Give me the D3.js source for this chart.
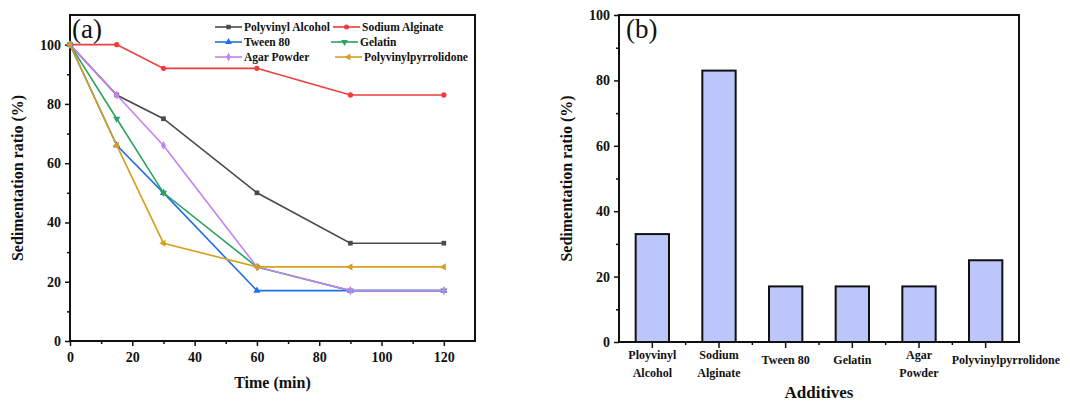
<!DOCTYPE html>
<html>
<head>
<meta charset="utf-8">
<script src="https://cdn.jsdelivr.net/npm/d3@7"></script>
<style>
  body { margin: 0; background: #fff; }
  svg { display: block; font-family: "Liberation Serif", "Times New Roman", serif; }
  .tick text { font-family: "Liberation Serif", "Times New Roman", serif; font-weight: bold; font-size: 14px; fill: #111; }
</style>
</head>
<body>
<svg id="chart" width="1070" height="401"></svg>
<script>
// panel (a) data
const times = [0, 15, 30, 60, 90, 120];
const seriesNames = ["Polyvinyl Alcohol", "Sodium Alginate", "Tween 80", "Gelatin", "Agar Powder", "Polyvinylpyrrolidone"];
const pvaValues = [100, 83, 75, 50, 33, 33];
const alginateValues = [100, 100, 92, 92, 83, 83];
const tweenValues = [100, 66, 50, 17, 17, 17];
const gelatinValues = [100, 75, 50, 25, 17, 17];
const agarValues = [100, 83, 66, 25, 17, 17];
const pvpValues = [100, 66, 33, 25, 25, 25];

// panel (b) data
const additives = ["Ployvinyl|Alcohol", "Sodium|Alginate", "Tween 80", "Gelatin", "Agar|Powder", "Polyvinylpyrrolidone"];
const finalRatio = [33, 83, 17, 17, 17, 25];

const xTicksA = [0, 20, 40, 60, 80, 100, 120];
const yTicks = [0, 20, 40, 60, 80, 100];

const colors = ["#4a4a4a", "#f03c3c", "#1f6fe6", "#2aa35e", "#c282f0", "#d4a020"];
const symbols = [
  { type: d3.symbolSquare, rot: 0 },
  { type: d3.symbolCircle, rot: 0 },
  { type: d3.symbolTriangle, rot: 0 },
  { type: d3.symbolTriangle, rot: 180 },
  { type: d3.symbolDiamond, rot: 0 },
  { type: d3.symbolTriangle, rot: -90 }
];
const allValues = [pvaValues, alginateValues, tweenValues, gelatinValues, agarValues, pvpValues];

const svg = d3.select("#chart");

// ---------- panel (a) ----------
const xA = d3.scaleLinear().domain([0, 130]).range([70, 475]);
const yA = d3.scaleLinear().domain([0, 110]).range([341, 15]);

const gA = svg.append("g");

gA.append("g")
  .attr("transform", `translate(0,${yA(0)})`)
  .call(d3.axisBottom(xA).tickValues(d3.range(10, 130, 20)).tickSize(3).tickFormat(""))
  .call(g => g.select(".domain").remove());
gA.append("g")
  .attr("transform", `translate(0,${yA(0)})`)
  .call(d3.axisBottom(xA).tickValues(xTicksA).tickSize(5).tickPadding(6))
  .call(g => g.select(".domain").remove());

gA.append("g")
  .attr("transform", `translate(${xA(0)},0)`)
  .call(d3.axisLeft(yA).tickValues(d3.range(10, 110, 20)).tickSize(3).tickFormat(""))
  .call(g => g.select(".domain").remove());
gA.append("g")
  .attr("transform", `translate(${xA(0)},0)`)
  .call(d3.axisLeft(yA).tickValues(yTicks).tickSize(5).tickPadding(4))
  .call(g => g.select(".domain").remove());

gA.selectAll(".tick line").attr("stroke", "#111").attr("stroke-width", 1.5);

gA.append("rect")
  .attr("x", xA(0)).attr("y", yA(110))
  .attr("width", xA(130) - xA(0)).attr("height", yA(0) - yA(110))
  .attr("fill", "none").attr("stroke", "#111").attr("stroke-width", 2);

const line = d3.line().x((d, i) => xA(times[i])).y(d => yA(d));

allValues.forEach((vals, s) => {
  gA.append("path")
    .datum(vals)
    .attr("d", line)
    .attr("fill", "none")
    .attr("stroke", colors[s])
    .attr("stroke-width", 1.6);
  gA.selectAll(null)
    .data(vals)
    .enter()
    .append("path")
    .attr("d", d3.symbol().type(symbols[s].type).size(22))
    .attr("transform", (d, i) => `translate(${xA(times[i])},${yA(d)}) rotate(${symbols[s].rot})`)
    .attr("fill", colors[s]);
});

// legend
const legendPos = [[215, 27], [333, 27], [215, 42], [331, 42], [215, 57], [335, 57]];
seriesNames.forEach((name, s) => {
  const [lx, ly] = legendPos[s];
  const lg = gA.append("g").attr("transform", `translate(${lx},${ly})`);
  lg.append("line").attr("x1", 0).attr("x2", 27).attr("stroke", colors[s]).attr("stroke-width", 1.6);
  lg.append("path")
    .attr("d", d3.symbol().type(symbols[s].type).size(20))
    .attr("transform", `translate(13.5,0) rotate(${symbols[s].rot})`)
    .attr("fill", colors[s]);
  lg.append("text")
    .attr("x", 29).attr("y", 4)
    .attr("font-size", 11.5).attr("font-weight", "bold").attr("fill", "#111")
    .text(name);
});

gA.append("text").attr("x", 72).attr("y", 38)
  .attr("font-size", 27).attr("fill", "#111").text("(a)");

gA.append("text")
  .attr("transform", `translate(23,${(yA(0) + yA(110)) / 2}) rotate(-90)`)
  .attr("text-anchor", "middle")
  .attr("font-size", 16).attr("font-weight", "bold").attr("fill", "#111")
  .text("Sedimentation ratio (%)");

gA.append("text")
  .attr("x", (xA(0) + xA(130)) / 2).attr("y", 388)
  .attr("text-anchor", "middle")
  .attr("font-size", 16).attr("font-weight", "bold").attr("fill", "#111")
  .text("Time (min)");

// ---------- panel (b) ----------
const xB = d3.scaleBand().domain(additives).range([619, 1019]).paddingInner(0.5).paddingOuter(0.25);
const yB = d3.scaleLinear().domain([0, 100]).range([342, 15]);

const gB = svg.append("g");

gB.append("g")
  .attr("transform", `translate(${xB.range()[0]},0)`)
  .call(d3.axisLeft(yB).tickValues(d3.range(10, 100, 20)).tickSize(3).tickFormat(""))
  .call(g => g.select(".domain").remove());
gB.append("g")
  .attr("transform", `translate(${xB.range()[0]},0)`)
  .call(d3.axisLeft(yB).tickValues(yTicks).tickSize(5).tickPadding(4))
  .call(g => g.select(".domain").remove());

gB.append("g")
  .attr("transform", `translate(0,${yB(0)})`)
  .call(d3.axisBottom(xB).tickSize(6).tickFormat(""))
  .call(g => g.select(".domain").remove());

// minor ticks at category boundaries
const step = xB.step();
gB.selectAll(null)
  .data(additives.slice(1))
  .enter()
  .append("line")
  .attr("x1", d => xB(d) + xB.bandwidth() / 2 - step / 2)
  .attr("x2", d => xB(d) + xB.bandwidth() / 2 - step / 2)
  .attr("y1", yB(0)).attr("y2", yB(0) + 3)
  .attr("stroke", "#111").attr("stroke-width", 1.5);

gB.selectAll(".tick line").attr("stroke", "#111").attr("stroke-width", 1.5);

gB.selectAll("rect.bar")
  .data(finalRatio)
  .enter()
  .append("rect")
  .attr("class", "bar")
  .attr("x", (d, i) => xB(additives[i]))
  .attr("y", d => yB(d))
  .attr("width", xB.bandwidth())
  .attr("height", d => yB(0) - yB(d))
  .attr("fill", "#bcc6fa")
  .attr("stroke", "#111")
  .attr("stroke-width", 2);

gB.append("rect")
  .attr("x", 619).attr("y", yB(100))
  .attr("width", 400).attr("height", yB(0) - yB(100))
  .attr("fill", "none").attr("stroke", "#111").attr("stroke-width", 2);

// category labels (the long last one starts near its tick and runs past the frame)
additives.forEach((name, i) => {
  const parts = name.split("|");
  const cx = xB(name) + xB.bandwidth() / 2;
  const last = i === additives.length - 1;
  const t = gB.append("text")
    .attr("text-anchor", last ? "start" : "middle")
    .attr("font-size", 12).attr("font-weight", "bold").attr("fill", "#111");
  if (parts.length === 2) {
    t.append("tspan").attr("x", cx).attr("y", 359).text(parts[0]);
    t.append("tspan").attr("x", cx).attr("y", 377).text(parts[1]);
  } else {
    t.append("tspan").attr("x", last ? cx - 34 : cx).attr("y", 364).text(parts[0]);
  }
});

gB.append("text").attr("x", 626).attr("y", 38)
  .attr("font-size", 27).attr("fill", "#111").text("(b)");

gB.append("text")
  .attr("transform", `translate(572,${(yB(0) + yB(100)) / 2}) rotate(-90)`)
  .attr("text-anchor", "middle")
  .attr("font-size", 16).attr("font-weight", "bold").attr("fill", "#111")
  .text("Sedimentation ratio (%)");

gB.append("text")
  .attr("x", 819).attr("y", 398)
  .attr("text-anchor", "middle")
  .attr("font-size", 17).attr("font-weight", "bold").attr("fill", "#111")
  .text("Additives");
</script>
</body>
</html>
